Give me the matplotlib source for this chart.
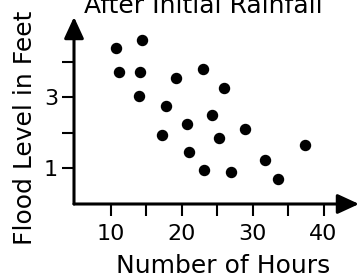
import matplotlib
matplotlib.use("Agg")
import matplotlib.pyplot as plt

# hours after initial rainfall vs flood level (feet)
hours = [10.8, 14.4, 11.2, 14.2, 19.2, 23.0, 14.0, 26.0, 17.8, 24.3,
         20.8, 28.9, 17.2, 25.2, 21.0, 23.2, 27.0, 31.8, 33.6, 37.4]
level = [4.4, 4.6, 3.7, 3.7, 3.55, 3.8, 3.05, 3.25, 2.75, 2.5,
         2.25, 2.1, 1.95, 1.85, 1.45, 0.95, 0.9, 1.25, 0.7, 1.65]

x_ticks = [10, 15, 20, 25, 30, 35, 40]
x_labels = ["10", "", "20", "", "30", "", "40"]
y_ticks = [1, 2, 3, 4]
y_labels = ["1", "", "3", ""]

fig = plt.figure(figsize=(3.6, 2.74), dpi=100)
ax = fig.add_axes([74 / 360, 70 / 274, 285 / 360, 187 / 274])

ax.scatter(hours, level, s=52, color="black", zorder=3)

ax.set_xlim(4.83, 45.0)
ax.set_ylim(0, 5.26)
ax.set_xticks(x_ticks)
ax.set_xticklabels(x_labels)
ax.set_yticks(y_ticks)
ax.set_yticklabels(y_labels)
ax.tick_params(direction="out", length=8.4, width=1.5, labelsize=16, color="black")
ax.tick_params(axis="x", pad=6)
ax.tick_params(axis="y", pad=3)

for s in ax.spines.values():
    s.set_visible(False)

# axes drawn as arrows
arrow = dict(arrowstyle="-|>,head_length=0.65,head_width=0.3", lw=2.2,
             color="black", shrinkA=0, shrinkB=0, mutation_scale=20)
ax.annotate("", xy=(1, 0), xytext=(0, 0), xycoords="axes fraction", arrowprops=arrow)
ax.annotate("", xy=(0, 1), xytext=(0, 0), xycoords="axes fraction", arrowprops=arrow)

fig.text(203 / 360, 1 - 13 / 274, "After Initial Rainfall", ha="center", va="baseline", fontsize=18)
fig.text(223.5 / 360, 1 - 273 / 274, "Number of Hours", ha="center", va="baseline", fontsize=18)
fig.text(32.5 / 360, 1 - 127.5 / 274, "Flood Level in Feet", ha="center", va="baseline",
         rotation=90, rotation_mode="anchor", fontsize=18)

fig.savefig("out.png", dpi=100)
